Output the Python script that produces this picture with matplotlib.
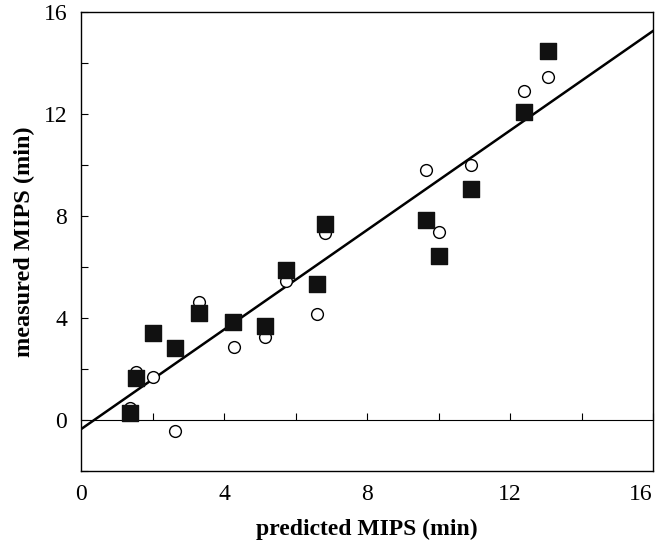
import matplotlib
matplotlib.use("Agg")
import matplotlib.pyplot as plt
import numpy as np

# predicted vs measured MIPS (min)
sq_x = [1.36, 1.55, 2.01, 2.62, 3.31, 4.25, 5.15, 5.74, 6.61, 6.83, 9.64, 10.0, 10.91, 12.39, 13.07]
sq_y = [0.26, 1.63, 3.43, 2.81, 4.19, 3.86, 3.67, 5.90, 5.33, 7.67, 7.83, 6.42, 9.06, 12.09, 14.48]

circ_x = [1.36, 1.55, 2.01, 2.62, 3.31, 4.27, 5.15, 5.74, 6.61, 6.83, 9.65, 10.0, 10.91, 12.40, 13.07]
circ_y = [0.46, 1.89, 1.69, -0.44, 4.62, 2.85, 3.24, 5.46, 4.15, 7.35, 9.82, 7.37, 10.01, 12.92, 13.44]

# regression line
fit_slope = 0.976
fit_intercept = -0.36

x_ticks = [0, 4, 8, 12, 16]
y_ticks = [0, 4, 8, 12, 16]

plt.rcParams["font.family"] = ["Liberation Serif", "DejaVu Serif"]

fig = plt.figure(figsize=(6.57, 5.43), dpi=100)
ax = fig.add_axes([81 / 657, 1 - 471 / 543, 572 / 657, 459 / 543])

ax.set_xlim(0, 16)
ax.set_ylim(-2, 16)

xx = np.array([0, 16])
ax.plot(xx, fit_intercept + fit_slope * xx, color="black", lw=1.8, zorder=2)

ax.scatter(circ_x, circ_y, s=72, marker="o", facecolors="white",
           edgecolors="black", linewidths=1.0, zorder=3)
ax.scatter(sq_x, sq_y, s=120, marker="s", color="#111111", zorder=4)

# y axis: ticks inward, minor every 2
ax.set_yticks(y_ticks)
ax.set_yticks(np.arange(-2, 17, 2), minor=True)
ax.tick_params(axis="y", which="both", direction="in", length=5, width=0.8,
               labelsize=17, pad=10, right=False)

# x labels at the bottom, no tick marks there
ax.set_xticks(x_ticks)
ax.tick_params(axis="x", length=0, labelsize=17, pad=9)
ax.get_xticklabels()[-1].set_horizontalalignment("right")

# zero line carries the x tick marks
zero = ax.secondary_xaxis(2 / 18)
zero.set_xticks(np.arange(2, 17, 2))
zero.tick_params(direction="in", length=5, width=0.8, labelbottom=False)
zero.spines["bottom"].set_linewidth(0.8)

for s in ax.spines.values():
    s.set_linewidth(1.0)

ax.set_xlabel("predicted MIPS (min)", fontsize=17, fontweight="bold", labelpad=10)
ax.set_ylabel("measured MIPS (min)", fontsize=17.5, fontweight="bold", labelpad=6)

fig.savefig("out.png", dpi=100)
